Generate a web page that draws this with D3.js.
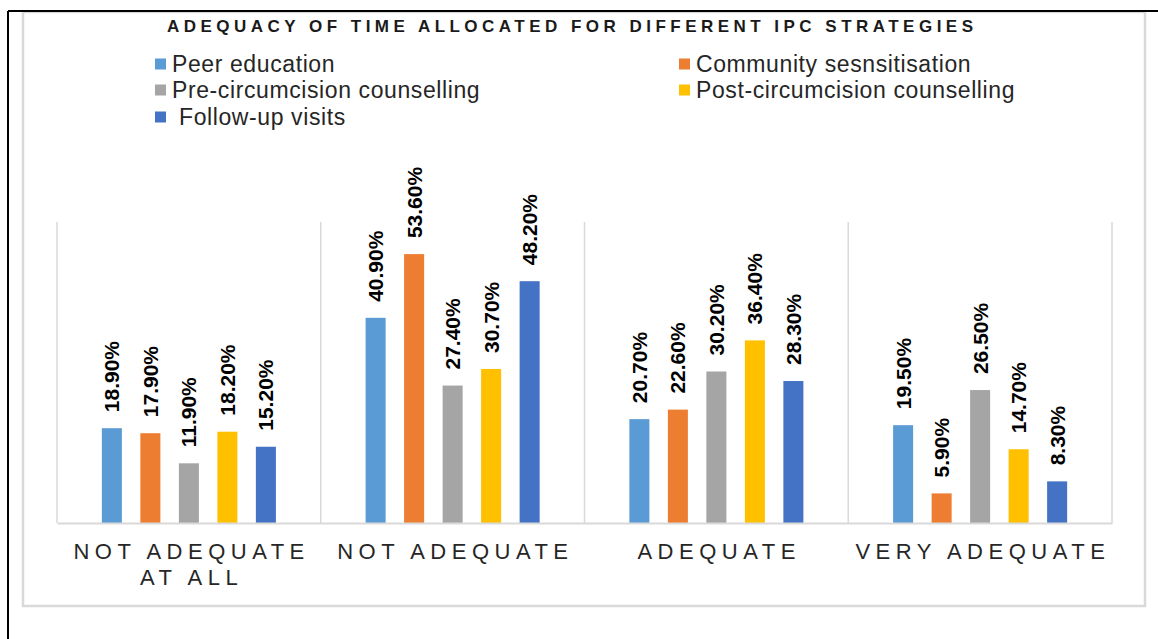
<!DOCTYPE html>
<html>
<head>
<meta charset="utf-8">
<script src="https://cdn.jsdelivr.net/npm/d3@7"></script>
<style>
  body { margin: 0; background: #fff; }
  svg { display: block; font-family: "Liberation Sans", Arial, sans-serif; }
</style>
</head>
<body>
<div id="vis"></div>
<script>
// data
var title = "ADEQUACY OF TIME ALLOCATED FOR DIFFERENT IPC STRATEGIES";
var categories = ["NOT ADEQUATE AT ALL", "NOT ADEQUATE", "ADEQUATE", "VERY ADEQUATE"];
var series = ["Peer education", "Community sesnsitisation", "Pre-circumcision counselling",
              "Post-circumcision counselling", " Follow-up visits"];
var peerEducation = [18.9, 40.9, 20.7, 19.5];
var communitySens = [17.9, 53.6, 22.6, 5.9];
var preCounselling = [11.9, 27.4, 30.2, 26.5];
var postCounselling = [18.2, 30.7, 36.4, 14.7];
var followUp = [15.2, 48.2, 28.3, 8.3];
var values = [peerEducation, communitySens, preCounselling, postCounselling, followUp];
var colors = ["#5B9BD5", "#ED7D31", "#A5A5A5", "#FFC000", "#4472C4"];

var width = 1158, height = 639;
var margin = {top: 222, right: 46, bottom: 116, left: 57};
var plotW = width - margin.left - margin.right;
var plotH = height - margin.top - margin.bottom;

var svg = d3.select("#vis").append("svg")
  .attr("width", width).attr("height", height);

// frame lines
svg.append("rect").attr("x", 23).attr("y", 12).attr("width", 1122).attr("height", 594)
  .attr("fill", "none").attr("stroke", "#d9d9d9").attr("stroke-width", 2.5);
svg.append("line").attr("x1", 8).attr("x2", width).attr("y1", 11).attr("y2", 11)
  .attr("stroke", "#000").attr("stroke-width", 2);
svg.append("line").attr("x1", 8).attr("x2", 8).attr("y1", 11).attr("y2", height)
  .attr("stroke", "#000").attr("stroke-width", 2);

// title
svg.append("text").attr("x", 167).attr("y", 32)
  .attr("textLength", 806).attr("lengthAdjust", "spacing")
  .style("font-size", "17px").style("font-weight", "bold").attr("fill", "#1a1a1a")
  .text(title);

// legend
var legendPos = [[155, 64], [679, 64], [155, 90], [679, 90], [155, 117]];
var legend = svg.append("g");
series.forEach(function(name, i){
  var g = legend.append("g").attr("transform", "translate(" + legendPos[i][0] + "," + legendPos[i][1] + ")");
  g.append("rect").attr("x", 0).attr("y", -5.5).attr("width", 11).attr("height", 11).attr("fill", colors[i]);
  g.append("text").attr("x", 17).attr("y", 8).style("font-size", "23px").style("white-space", "pre")
    .style("letter-spacing", "0.6px")
    .attr("fill", "#262626").text(name);
});

var chart = svg.append("g").attr("transform", "translate(" + margin.left + "," + margin.top + ")");

var x0 = d3.scaleBand().domain(categories).range([0, plotW]);
var x1 = d3.scaleBand().domain(d3.range(series.length)).range([0, x0.bandwidth()])
  .paddingInner(0.48).paddingOuter(1.165);
var y = d3.scaleLinear().domain([0, 60]).range([plotH, 0]);

// category separators
chart.append("g").selectAll("line")
  .data(d3.range(categories.length + 1))
  .enter().append("line")
  .attr("x1", function(i){ return i * x0.step(); })
  .attr("x2", function(i){ return i * x0.step(); })
  .attr("y1", 0).attr("y2", plotH)
  .attr("stroke", "#d9d9d9").attr("stroke-width", 1.5);

// bars
var groups = chart.append("g").selectAll("g")
  .data(categories).enter().append("g")
  .attr("transform", function(c){ return "translate(" + x0(c) + ",0)"; });

groups.selectAll("rect")
  .data(function(c, ci){ return values.map(function(v, si){ return {s: si, v: v[ci]}; }); })
  .enter().append("rect")
  .attr("x", function(d){ return x1(d.s); })
  .attr("width", x1.bandwidth())
  .attr("y", function(d){ return y(d.v); })
  .attr("height", function(d){ return plotH - y(d.v); })
  .attr("fill", function(d){ return colors[d.s]; });

groups.selectAll("text")
  .data(function(c, ci){ return values.map(function(v, si){ return {s: si, v: v[ci]}; }); })
  .enter().append("text")
  .attr("transform", function(d){
    return "translate(" + (x1(d.s) + x1.bandwidth() / 2 + 7.5) + "," + (y(d.v) - 16) + ") rotate(-90)";
  })
  .style("font-size", "21px").style("font-weight", "bold").attr("fill", "#000")
  .text(function(d){ return d.v.toFixed(2) + "%"; });

// x axis
var xAxis = d3.axisBottom(x0).tickSize(0).tickPadding(0);
var ax = chart.append("g").attr("transform", "translate(0," + plotH + ")").call(xAxis);
ax.select(".domain").attr("stroke", "#d9d9d9").attr("stroke-width", 2);
ax.selectAll(".tick text")
  .style("font-size", "22px").style("letter-spacing", "5.5px")
  .attr("font-family", "Liberation Sans, Arial, sans-serif")
  .attr("fill", "#262626").attr("y", 36).attr("dy", 0)
  .call(wrap, x0.bandwidth() + 10);

// wrap long category labels
function wrap(sel, w){
  sel.each(function(){
    var t = d3.select(this);
    var words = t.text().split(" ");
    var lines = [], line = [];
    t.text(null);
    var tsp = t.append("tspan").attr("x", 2.75);
    words.forEach(function(word){
      line.push(word);
      tsp.text(line.join(" "));
      if (tsp.node().getComputedTextLength() > w && line.length > 1){
        line.pop();
        lines.push(line.join(" "));
        line = [word];
      }
    });
    lines.push(line.join(" "));
    tsp.remove();
    lines.forEach(function(l, i){
      t.append("tspan").attr("x", 2.75).attr("dy", i ? 26 : 0).text(l);
    });
  });
}
</script>
</body>
</html>
